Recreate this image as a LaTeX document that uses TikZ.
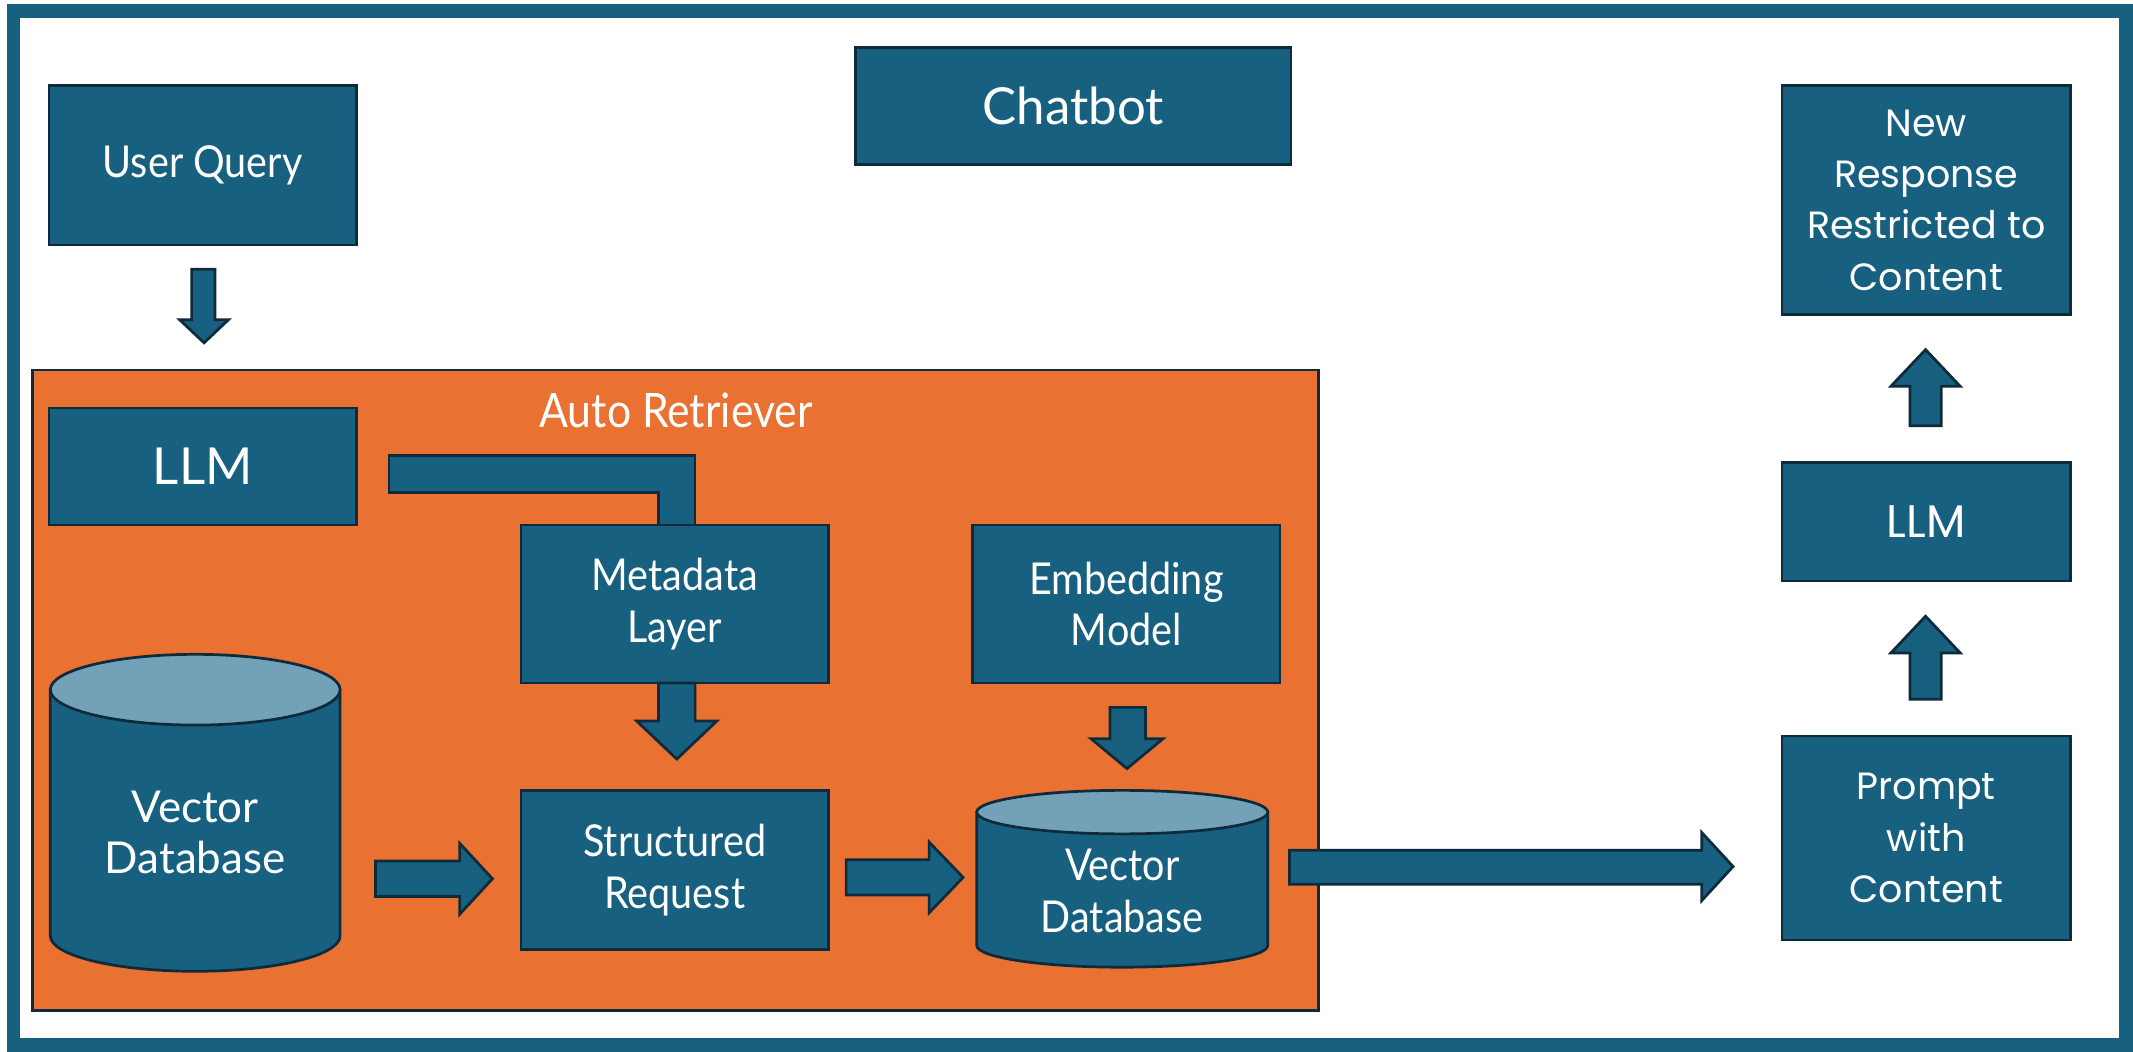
\documentclass[tikz,border=0pt]{standalone}
\usepackage{fontspec}
\setmainfont{Lato}
\newfontfamily\narrowfont[FakeStretch=0.9]{Lato}
\newfontfamily\roundfont{Poppins}
\usetikzlibrary{calc}
\newlength\px
\setlength\px{0.013603cm}
\definecolor{boxblue}{HTML}{17607F}
\definecolor{edgeblue}{HTML}{0E2A3B}
\definecolor{capblue}{HTML}{73A2B8}
\definecolor{retorange}{HTML}{E97132}
\tikzset{
  box/.style={draw=edgeblue, line width=2\px, fill=boxblue, text=white,
    align=center, inner sep=0pt},
  fat/.style={draw=edgeblue, line width=2\px, fill=boxblue, line join=miter},
  cyl/.style={draw=edgeblue, line width=2\px},
  lbl/.style={text=white, align=center, inner sep=0pt},
  narrowtxt/.style={font=\narrowfont\fontsize{12.5}{14.7}\selectfont},
  plaintxt/.style={font=\fontsize{12.5}{14.7}\selectfont},
  roundtxt/.style={font=\roundfont\fontsize{10.8}{14.6}\selectfont},
}
\begin{document}
\begin{tikzpicture}[x=0.013603cm, y=-0.013603cm]
\useasboundingbox (0,0) rectangle (1568,773);
\fill[white] (0,0) rectangle (1568,773);
% outer frame
\draw[boxblue, line width=10\px] (10,8) rectangle (1563,768);

% title
\node[box, font=\fontsize{14.5}{16}\selectfont, minimum width=320\px, minimum height=86\px] (chat) at (789,78) {Chatbot};

% user query and its arrow
\node[box, narrowtxt, minimum width=226\px, minimum height=117\px] (uq) at (149,121.5) {User Query};
\draw[fat] (141,198) -- (158,198) -- (158,235) -- (168,235) -- (150,252) -- (132,235) -- (141,235) -- cycle;

% auto retriever panel
\node[draw=edgeblue, line width=2\px, fill=retorange, minimum width=945\px, minimum height=471\px, inner sep=0pt] (ar) at (496.5,507.5) {};
\node[lbl, narrowtxt, font=\narrowfont\fontsize{13.5}{15}\selectfont] (artitle) at (497,302) {Auto Retriever};

\node[box, font=\fontsize{14.5}{16}\selectfont, minimum width=226\px, minimum height=86\px] (llmA) at (149,343) {LLM};

% bent arrow from LLM into the metadata layer
\draw[fat] (286,335) -- (511,335) -- (511,390) -- (484,390) -- (484,362) -- (286,362) -- cycle;

\node[box, narrowtxt, minimum width=226\px, minimum height=116\px] (meta) at (496,444) {Metadata\\Layer};
\node[box, narrowtxt, minimum width=226\px, minimum height=116\px] (emb) at (828,444) {Embedding\\Model};
\node[box, narrowtxt, minimum width=226\px, minimum height=117\px] (sreq) at (496,639.5) {Structured\\Request};

\draw[fat] (484,502) -- (511,502) -- (511,530) -- (527,530) -- (497.5,558) -- (468,530) -- (484,530) -- cycle;
\draw[fat] (816,520) -- (842,520) -- (842,543) -- (855,543) -- (828.5,565) -- (802,543) -- (816,543) -- cycle;

% left vector database
\path[cyl, fill=boxblue] (37,507) -- (37,688) arc[start angle=180, end angle=360, x radius=106.5\px, y radius=26\px] -- (250,507) -- cycle;
\draw[cyl, fill=capblue] (143.5,507) ellipse[x radius=106.5\px, y radius=26\px];
\node[lbl, plaintxt] (vdbA) at (143.5,612) {Vector\\Database};

% right vector database
\path[cyl, fill=boxblue] (718,597) -- (718,695) arc[start angle=180, end angle=360, x radius=107\px, y radius=16\px] -- (932,597) -- cycle;
\draw[cyl, fill=capblue] (825,597) ellipse[x radius=107\px, y radius=16\px];
\node[lbl, narrowtxt] (vdbB) at (825,655) {Vector\\Database};

% horizontal arrows
\draw[fat] (276,633) -- (338,633) -- (338,620) -- (362,646) -- (338,672) -- (338,659) -- (276,659) -- cycle;
\draw[fat] (622,632) -- (683,632) -- (683,619) -- (708,645) -- (683,671) -- (683,658) -- (622,658) -- cycle;
\draw[fat] (948,625) -- (1251,625) -- (1251,612) -- (1274,637) -- (1251,662) -- (1251,650) -- (948,650) -- cycle;

% response chain
\node[box, roundtxt, minimum width=212\px, minimum height=150\px] (prompt) at (1416,616) {Prompt\\with\\Content};
\node[box, roundtxt, font=\roundfont\fontsize{13}{15}\selectfont, minimum width=212\px, minimum height=87\px] (llmB) at (1416,383.5) {LLM};
\node[box, roundtxt, minimum width=212\px, minimum height=168\px] (resp) at (1416,147) {New\\Response\\Restricted to\\Content};

\draw[fat] (1404,514) -- (1427,514) -- (1427,480) -- (1441,480) -- (1415.5,453) -- (1390,480) -- (1404,480) -- cycle;
\draw[fat] (1404,313) -- (1427,313) -- (1427,284) -- (1441,284) -- (1415.5,257) -- (1390,284) -- (1404,284) -- cycle;
\end{tikzpicture}
\end{document}
